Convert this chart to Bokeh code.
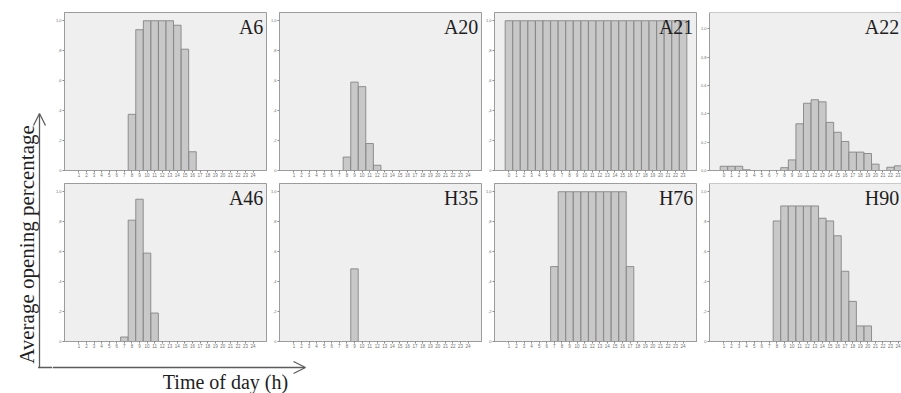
import math
from bokeh.plotting import figure
from bokeh.models import (Range1d, FixedTicker, CustomJSTickFormatter, Label,
                          Arrow, OpenHead, Span)
from bokeh.layouts import row, column
from bokeh.embed import file_html
from bokeh.resources import INLINE

# ---------------- data ----------------
HOURS_1_24 = [1, 2, 3, 4, 5, 6, 7, 8, 9, 10, 11, 12,
              13, 14, 15, 16, 17, 18, 19, 20, 21, 22, 23, 24]
HOURS_0_23 = [0, 1, 2, 3, 4, 5, 6, 7, 8, 9, 10, 11,
              12, 13, 14, 15, 16, 17, 18, 19, 20, 21, 22, 23]

YTICKS = [0, 0.2, 0.4, 0.6, 0.8, 1.0]
YTICK_LABELS_SPSS = ["0", ",2", ",4", ",6", ",8", "1,0"]
YTICK_LABELS_A22 = ["0,0", "0,2", "0,4", "0,6", "0,8", "1,0"]

A6 = [0, 0, 0, 0, 0, 0, 0, 0.375, 0.94, 1.0, 1.0, 1.0,
      1.0, 0.97, 0.81, 0.125, 0, 0, 0, 0, 0, 0, 0, 0]
A20 = [0, 0, 0, 0, 0, 0, 0, 0.09, 0.59, 0.56, 0.18, 0.035,
       0, 0, 0, 0, 0, 0, 0, 0, 0, 0, 0, 0]
A21 = [1.0, 1.0, 1.0, 1.0, 1.0, 1.0, 1.0, 1.0, 1.0, 1.0, 1.0, 1.0,
       1.0, 1.0, 1.0, 1.0, 1.0, 1.0, 1.0, 1.0, 1.0, 1.0, 1.0, 1.0]
A22 = [0.03, 0.03, 0.03, 0.005, 0, 0, 0, 0, 0.02, 0.075, 0.33, 0.475,
       0.50, 0.485, 0.34, 0.27, 0.205, 0.13, 0.13, 0.12, 0.045, 0, 0.023, 0.033]
A46 = [0, 0, 0, 0, 0, 0, 0.03, 0.81, 0.95, 0.59, 0.19, 0,
       0, 0, 0, 0, 0, 0, 0, 0, 0, 0, 0, 0]
H35 = [0, 0, 0, 0, 0, 0, 0, 0, 0.485, 0, 0, 0,
       0, 0, 0, 0, 0, 0, 0, 0, 0, 0, 0, 0]
H76 = [0, 0, 0, 0, 0, 0, 0.5, 1.0, 1.0, 1.0, 1.0, 1.0,
       1.0, 1.0, 1.0, 1.0, 0.5, 0, 0, 0, 0, 0, 0, 0]
H90 = [0, 0, 0, 0, 0, 0, 0, 0.805, 0.905, 0.905, 0.905, 0.905,
       0.905, 0.823, 0.805, 0.706, 0.469, 0.268, 0.104, 0.104, 0, 0, 0, 0]

Y_LABEL = "Average opening percentage"
X_LABEL = "Time of day (h)"

# ---------------- styling ----------------
SERIF = "Liberation Serif"
BG = "#efefef"
FRAME = "#9c9c9c"
BAR_FILL = "#c8c8c8"
BAR_LINE = "#858585"
ARROW_COL = "#5c5c5c"
TEXT_COL = "#1e1e1e"

ROW_H = 171
TOP_EXTRA = 8
FULL_FRAME_W = 203
PAD = 1.9


def panel(name, hours, values, ylabels, y_end, width, top_border, cut=False):
    x_start = hours[0] - PAD
    x_full_end = hours[-1] + PAD
    pxu = FULL_FRAME_W / (x_full_end - x_start)
    frame_w = width - 12
    x_end = x_start + frame_w / pxu
    p = figure(width=width, height=ROW_H - 4 + top_border,
               x_range=Range1d(x_start, x_end), y_range=Range1d(0, y_end),
               output_backend="svg", toolbar_location=None,
               min_border_left=12, min_border_right=0,
               min_border_top=top_border, min_border_bottom=8)
    p.background_fill_color = BG
    p.border_fill_color = "white"
    if cut:
        p.outline_line_color = None
        p.add_layout(Span(location=y_end, dimension="width",
                          line_color=FRAME, line_width=1))
    else:
        p.outline_line_color = FRAME
    p.xgrid.visible = False
    p.ygrid.visible = False

    xs = [h for h, v in zip(hours, values) if v > 0]
    ts = [v for v in values if v > 0]
    p.vbar(x=xs, top=ts, bottom=0, width=0.98,
           fill_color=BAR_FILL, line_color=BAR_LINE, line_width=0.9)

    xa = p.xaxis[0]
    xa.ticker = FixedTicker(ticks=hours)
    xa.major_label_text_font_size = "4.5px"
    xa.major_label_text_color = "#707070"
    xa.major_label_standoff = 0
    xa.major_tick_out = 2
    xa.major_tick_in = 0
    xa.minor_tick_out = 0
    xa.minor_tick_in = 0
    xa.axis_line_color = FRAME
    xa.major_tick_line_color = "#8a8a8a"

    ya = p.yaxis[0]
    ya.ticker = FixedTicker(ticks=YTICKS)
    ya.formatter = CustomJSTickFormatter(
        args=dict(labels=ylabels),
        code="return labels[Math.round(tick*5)];")
    ya.major_label_text_font_size = "4px"
    ya.major_label_text_color = "#707070"
    ya.major_label_standoff = 1
    ya.major_tick_out = 2
    ya.major_tick_in = 0
    ya.minor_tick_out = 0
    ya.minor_tick_in = 0
    ya.axis_line_color = FRAME
    ya.major_tick_line_color = "#8a8a8a"

    label_x = (x_end - 0.3) if cut else (x_full_end - 0.55)
    p.add_layout(Label(x=label_x, y=y_end - 3.5 / 151.0, text=name,
                       text_align="right", text_baseline="top",
                       text_font=SERIF, text_font_size="20px",
                       text_color=TEXT_COL))
    return p


Y_END = 1.055
Y_END_A22 = 1.116
T0 = 4 + TOP_EXTRA   # top border of first row
T1 = 4               # top border of second row

p_a6 = panel("A6", HOURS_1_24, A6, YTICK_LABELS_SPSS, Y_END, 215, T0)
p_a20 = panel("A20", HOURS_1_24, A20, YTICK_LABELS_SPSS, Y_END, 215, T0)
p_a21 = panel("A21", HOURS_0_23, A21, YTICK_LABELS_SPSS, Y_END, 215, T0)
p_a22 = panel("A22", HOURS_0_23, A22, YTICK_LABELS_A22, Y_END_A22, 204, T0, cut=True)
p_a46 = panel("A46", HOURS_1_24, A46, YTICK_LABELS_SPSS, Y_END, 215, T1)
p_h35 = panel("H35", HOURS_1_24, H35, YTICK_LABELS_SPSS, Y_END, 215, T1)
p_h76 = panel("H76", HOURS_1_24, H76, YTICK_LABELS_SPSS, Y_END, 215, T1)
p_h90 = panel("H90", HOURS_1_24, H90, YTICK_LABELS_SPSS, Y_END, 204, T1, cut=True)

# ---------------- left strip: y label + vertical arrow ----------------
LEFT_W, TOTAL_H = 52, 393
left = figure(width=LEFT_W, height=TOTAL_H, x_range=Range1d(0, LEFT_W),
              y_range=Range1d(0, TOTAL_H), output_backend="svg",
              toolbar_location=None, x_axis_type=None, y_axis_type=None,
              min_border=0, min_border_left=0, min_border_right=0,
              min_border_top=0, min_border_bottom=0)
left.outline_line_color = None
left.xgrid.visible = False
left.ygrid.visible = False
left.background_fill_color = "white"
left.border_fill_color = "white"

CORNER_Y = TOTAL_H - 367
left.add_layout(Arrow(x_start=39, y_start=CORNER_Y, x_end=39, y_end=TOTAL_H - 113,
                      line_color=ARROW_COL, line_width=1.3,
                      end=OpenHead(size=12, line_color=ARROW_COL, line_width=1.3)))
left.add_layout(Arrow(x_start=37.5, y_start=CORNER_Y, x_end=LEFT_W, y_end=CORNER_Y,
                      line_color=ARROW_COL, line_width=1.3, end=None))
left.add_layout(Label(x=26, y=TOTAL_H - 244, text=Y_LABEL, angle=math.pi / 2,
                      text_align="center", text_baseline="alphabetic",
                      text_font=SERIF, text_font_size="21px", text_color=TEXT_COL))

# ---------------- bottom strip: horizontal arrow + x label ----------------
ROWS_H = (ROW_H + TOP_EXTRA) + ROW_H
BOT_W, BOT_H = 901 - LEFT_W, TOTAL_H - ROWS_H
bottom = figure(width=BOT_W, height=BOT_H, x_range=Range1d(0, BOT_W),
                y_range=Range1d(0, BOT_H), output_backend="svg",
                toolbar_location=None, x_axis_type=None, y_axis_type=None,
                min_border=0, min_border_left=0, min_border_right=0,
                min_border_top=0, min_border_bottom=0)
bottom.outline_line_color = None
bottom.xgrid.visible = False
bottom.ygrid.visible = False
bottom.background_fill_color = "white"
bottom.border_fill_color = "white"

by = TOTAL_H - 367
bottom.add_layout(Arrow(x_start=0, y_start=by, x_end=305 - LEFT_W, y_end=by,
                        line_color=ARROW_COL, line_width=1.3,
                        end=OpenHead(size=12, line_color=ARROW_COL, line_width=1.3)))
bottom.add_layout(Label(x=225 - LEFT_W, y=1, text=X_LABEL,
                        text_align="center", text_baseline="bottom",
                        text_font=SERIF, text_font_size="20px", text_color=TEXT_COL))

layout = row(left,
             column(row(p_a6, p_a20, p_a21, p_a22),
                    row(p_a46, p_h35, p_h76, p_h90),
                    bottom))

open("out.html", "w").write(file_html(layout, INLINE))
